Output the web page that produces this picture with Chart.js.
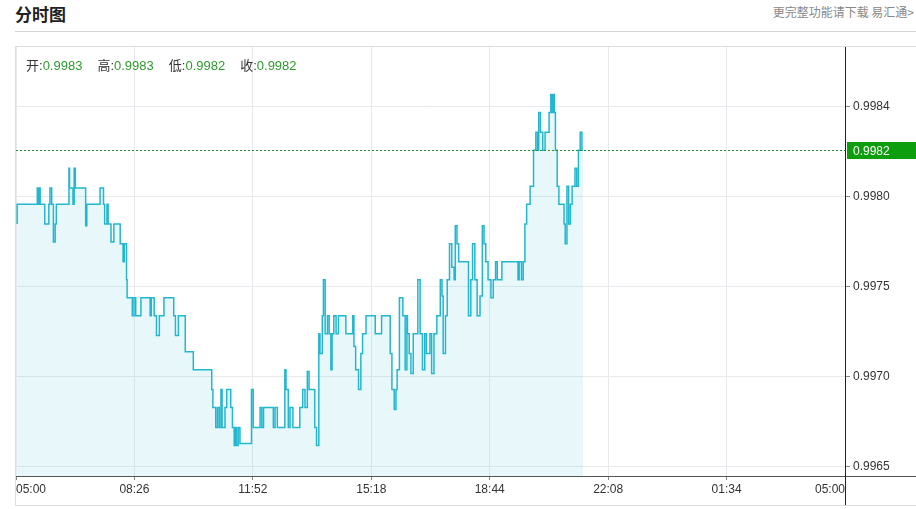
<!DOCTYPE html>
<html>
<head>
<meta charset="utf-8">
<script src="https://cdn.jsdelivr.net/npm/chart.js@4/dist/chart.umd.min.js"></script>
<style>
  body { margin: 0; background: #fff; width: 916px; height: 509px; overflow: hidden; position: relative;
         font-family: "Liberation Sans", "Noto Sans CJK SC", sans-serif; }
  #title { position: absolute; left: 15px; top: 1px; font: bold 17px "Noto Sans CJK SC", sans-serif; color: #222; }
  #more { position: absolute; right: 2px; top: 3px; font-size: 12px; color: #888; font-family: "Noto Sans CJK SC", sans-serif; }
  #rule { position: absolute; left: 15px; right: 0; top: 31px; height: 1px; background: #d4d4d4; }
  #frame { position: absolute; left: 15px; top: 46px; width: 901px; height: 458px;
           border-top: 1px solid #ddd; border-left: 1px solid #ddd; border-bottom: 1px solid #ddd; }
  #box { position: absolute; left: 16px; top: 47px; width: 900px; height: 458px; }
  #ohlc { position: absolute; left: 26px; top: 55px; font-size: 13px; color: #333; white-space: nowrap; }
  #ohlc span.item { margin-right: 15px; }
  #ohlc span.v { color: #2e9a2e; }
</style>
</head>
<body>
<div id="title">分时图</div>
<div id="more">更完整功能请下载 易汇通&gt;</div>
<div id="rule"></div>
<div id="frame"></div>
<div id="box"><canvas id="myChart"></canvas></div>
<div id="ohlc"></div>
<script>
// 表头 开/高/低/收
const ohlcNames = ['开', '高', '低', '收'];
const ohlcValues = ['0.9983', '0.9983', '0.9982', '0.9982'];

// x轴: 05:00 起的分钟数
const xTickLabels = ['05:00', '08:26', '11:52', '15:18', '18:44', '22:08', '01:34', '05:00'];
// y轴
const yTickValues = [0.9965, 0.9970, 0.9975, 0.9980, 0.9985];
const yTickLabels = ['0.9965', '0.9970', '0.9975', '0.9980', '0.9984'];

const times = [
    2, 5, 37, 38, 40, 42, 44, 50, 52, 57, 59, 62, 65, 68, 70, 72, 92, 93, 96, 99,
    101, 103, 105, 121, 123, 125, 146, 148, 152, 154, 158, 160, 165, 170, 172, 181, 183, 186, 188, 192,
    193, 196, 202, 205, 208, 217, 219, 233, 235, 240, 244, 249, 252, 257, 260, 274, 277, 282, 284, 294,
    298, 308, 309, 340, 342, 347, 350, 353, 356, 358, 360, 363, 366, 369, 373, 376, 379, 381, 383, 386,
    389, 392, 409, 412, 415, 424, 427, 430, 434, 447, 450, 454, 457, 467, 469, 473, 476, 481, 485, 493,
    498, 502, 506, 509, 512, 519, 522, 526, 528, 532, 534, 537, 541, 544, 547, 549, 552, 556, 560, 563,
    573, 577, 585, 587, 590, 595, 599, 602, 608, 614, 624, 627, 635, 638, 650, 653, 657, 660, 662, 666,
    672, 676, 679, 680, 683, 686, 690, 693, 698, 702, 706, 710, 713, 719, 722, 726, 731, 737, 740, 742,
    746, 749, 753, 757, 761, 763, 766, 769, 772, 786, 790, 793, 797, 801, 806, 810, 813, 816, 820, 825,
    829, 833, 836, 844, 848, 872, 874, 878, 881, 884, 887, 893, 899, 903, 906, 908, 911, 915, 919, 922,
    926, 929, 931, 933, 935, 937, 940, 943, 946, 952, 954, 957, 960, 963, 966, 971, 974, 977, 980, 983,
    985
];

const prices = [
    0.99785, 0.99796, 0.99796, 0.99805, 0.99796, 0.99805, 0.99796, 0.99796, 0.99785, 0.99785,
    0.99796, 0.99805, 0.99796, 0.99775, 0.99785, 0.99796, 0.99796, 0.99816, 0.99805, 0.99805,
    0.99796, 0.99816, 0.99805, 0.99805, 0.99784, 0.99796, 0.99796, 0.99805, 0.99805, 0.99796,
    0.99785, 0.99796, 0.99785, 0.99775, 0.99785, 0.99785, 0.99774, 0.99774, 0.99764, 0.99774,
    0.99754, 0.99744, 0.99744, 0.99734, 0.99744, 0.99734, 0.99744, 0.99744, 0.99734, 0.99744,
    0.99734, 0.99723, 0.99734, 0.99734, 0.99744, 0.99744, 0.99734, 0.99723, 0.99734, 0.99734,
    0.99714, 0.99714, 0.99704, 0.99704, 0.99693, 0.99683, 0.99672, 0.99683, 0.99672, 0.99693,
    0.99672, 0.99672, 0.99683, 0.99693, 0.99693, 0.99683, 0.99672, 0.99662, 0.99672, 0.99662,
    0.99672, 0.99663, 0.99663, 0.99693, 0.99672, 0.99672, 0.99683, 0.99672, 0.99683, 0.99683,
    0.99672, 0.99683, 0.99672, 0.99672, 0.99704, 0.99693, 0.99672, 0.99683, 0.99672, 0.99672,
    0.99683, 0.99693, 0.99683, 0.99703, 0.99693, 0.99693, 0.99672, 0.99662, 0.99724, 0.99713,
    0.99734, 0.99754, 0.99724, 0.99734, 0.99724, 0.99704, 0.99724, 0.99734, 0.99724, 0.99734,
    0.99734, 0.99724, 0.99724, 0.99734, 0.99717, 0.99704, 0.99693, 0.99713, 0.99724, 0.99734,
    0.99734, 0.99724, 0.99724, 0.99734, 0.99734, 0.99713, 0.99693, 0.99682, 0.99693, 0.99704,
    0.99744, 0.99734, 0.99704, 0.99734, 0.99724, 0.99713, 0.99702, 0.99724, 0.99724, 0.99754,
    0.99724, 0.99704, 0.99724, 0.99713, 0.99724, 0.99702, 0.99724, 0.99734, 0.99754, 0.99745,
    0.99713, 0.99734, 0.99754, 0.99774, 0.99761, 0.99754, 0.99784, 0.99774, 0.99764, 0.99764,
    0.99734, 0.99754, 0.99774, 0.99754, 0.99734, 0.99745, 0.99784, 0.99774, 0.99764, 0.99754,
    0.99744, 0.99754, 0.99764, 0.99754, 0.99764, 0.99764, 0.99754, 0.99764, 0.99754, 0.99764,
    0.99785, 0.99796, 0.99806, 0.99826, 0.99836, 0.99826, 0.99847, 0.99836, 0.99826, 0.99836,
    0.99836, 0.99847, 0.99857, 0.99847, 0.99857, 0.99847, 0.99826, 0.99806, 0.99796, 0.99796,
    0.99785, 0.99774, 0.99806, 0.99785, 0.99796, 0.99806, 0.99816, 0.99806, 0.99826, 0.99836,
    0.99826
];

const FONT = '"Liberation Sans", "Noto Sans CJK SC", sans-serif';

document.getElementById('ohlc').innerHTML = ohlcNames.map((n, i) =>
    `<span class="item">${n}:<span class="v">${ohlcValues[i]}</span></span>`).join('');

// 最新价的虚线和绿色标签, 以及贯穿整个框的坐标轴线
const overlay = {
    id: 'overlay',
    afterDraw(chart) {
        const { ctx, chartArea: a, scales: { y } } = chart;
        const last = prices[prices.length - 1];
        const py = Math.round(y.getPixelForValue(last)) + 0.5;
        ctx.save();
        ctx.lineWidth = 1;
        ctx.strokeStyle = '#2a8f2a';
        ctx.setLineDash([2, 2]);
        ctx.beginPath();
        ctx.moveTo(a.left, py);
        ctx.lineTo(a.right, py);
        ctx.stroke();
        ctx.setLineDash([]);

        ctx.strokeStyle = '#555';
        ctx.beginPath();
        ctx.moveTo(0, a.bottom + 0.5);
        ctx.lineTo(chart.width, a.bottom + 0.5);
        ctx.stroke();
        ctx.strokeStyle = '#222';
        ctx.beginPath();
        ctx.moveTo(a.right + 0.5, 0);
        ctx.lineTo(a.right + 0.5, chart.height);
        ctx.stroke();

        ctx.fillStyle = '#0d9e0d';
        ctx.fillRect(a.right + 2, py - 8.5, chart.width - a.right - 2, 17);
        ctx.fillStyle = '#fff';
        ctx.font = '12px ' + FONT;
        ctx.textBaseline = 'middle';
        ctx.fillText((Math.floor(last * 10000) / 10000).toFixed(4), a.right + 8, py + 1);
        ctx.restore();
    }
};

const data = {
    datasets: [
        {
            data: times.map((t, i) => ({ x: t, y: prices[i] })),
            borderColor: '#22b7cf',
            backgroundColor: 'rgba(34, 183, 207, 0.1)',
            borderWidth: 1.5,
            pointRadius: 0,
            stepped: 'after',
            fill: 'start',
        }
    ]
};

const config = {
    type: 'line',
    data: data,
    plugins: [overlay],
    options: {
        responsive: true,
        maintainAspectRatio: false,
        animation: false,
        layout: { padding: 0 },
        plugins: {
            legend: { display: false },
            tooltip: { enabled: false }
        },
        scales: {
            x: {
                type: 'linear',
                min: 0,
                max: 1440,
                afterBuildTicks: s => { s.ticks = xTickLabels.map((_, i) => ({ value: 1440 * i / 7 })); },
                afterFit: s => { s.height = 29; s.paddingLeft = 0; s.paddingRight = 0; },
                ticks: {
                    callback: (v, i) => xTickLabels[i],
                    align: 'inner',
                    autoSkip: false,
                    maxRotation: 0,
                    padding: 2,
                    color: '#333',
                    font: { size: 12, family: FONT }
                },
                grid: { color: '#e6eaee', tickColor: '#888', tickLength: 4 },
                border: { display: false }
            },
            y: {
                position: 'right',
                min: 0.99645,
                max: 0.9988333,
                afterBuildTicks: s => { s.ticks = yTickValues.map(v => ({ value: v })); },
                afterFit: s => { s.width = 71; s.paddingTop = 0; s.paddingBottom = 0; },
                ticks: {
                    callback: (v, i) => yTickLabels[i],
                    padding: 3,
                    color: '#333',
                    font: { size: 12, family: FONT }
                },
                grid: { color: '#e6eaee', tickColor: '#888', tickLength: 5 },
                border: { display: false }
            }
        }
    }
};

new Chart(document.getElementById('myChart'), config);
</script>
</body>
</html>
